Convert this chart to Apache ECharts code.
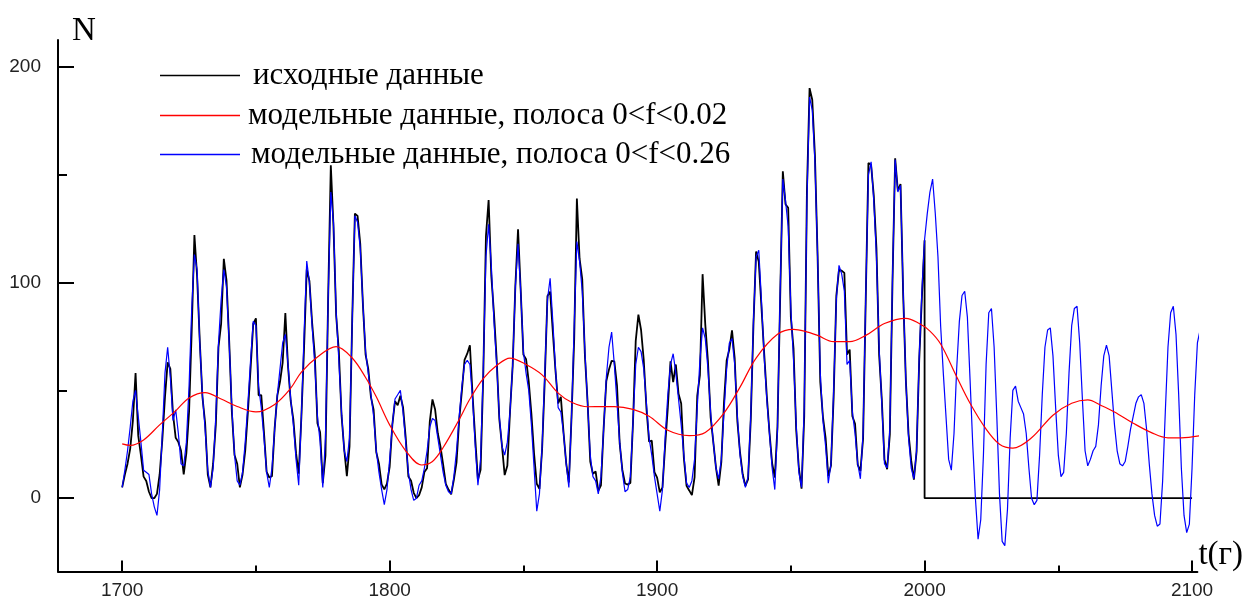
<!DOCTYPE html>
<html><head><meta charset="utf-8">
<script src="https://cdn.jsdelivr.net/npm/echarts@6/dist/echarts.min.js"></script>
<style>html,body{margin:0;padding:0;background:#fff}#c{width:1250px;height:600px}</style>
</head><body><div id="c"></div>
<script>
// ---------------- data ----------------
const legendNames = [
  'исходные данные',
  'модельные данные, полоса 0<f<0.02',
  'модельные данные, полоса 0<f<0.26'
];
const xName = 't(г)';
const yName = 'N';
const xMajorTicks = [1700, 1800, 1900, 2000, 2100];
const xMinorTicks = [1750, 1850, 1950, 2050];
const yMajorTicks = [0, 100, 200];
const yMinorTicks = [50, 150];

// original data (yearly), 1700..2000
const blackStartYear = 1700;
const blackValues = [
  5, 11, 16, 23, 36, 58, 29, 20, 10, 8,
  3, 0, 0, 2, 11, 27, 47, 63, 60, 39,
  28, 26, 22, 11, 21, 40, 78, 122, 103, 73,
  47, 35, 11, 5, 16, 34, 70, 81, 111, 101,
  73, 40, 20, 16, 5, 11, 22, 40, 60, 80.9,
  83.4, 47.7, 47.8, 30.7, 12.2, 9.6, 10.2, 32.4, 47.6, 54.0,
  62.9, 85.9, 61.2, 45.1, 36.4, 20.9, 11.4, 37.8, 69.8, 106.1,
  100.8, 81.6, 66.5, 34.8, 30.6, 7.0, 19.8, 92.5, 154.4, 125.9,
  84.8, 68.1, 38.5, 22.8, 10.2, 24.1, 82.9, 132.0, 130.9, 118.1,
  89.9, 66.6, 60.0, 46.9, 41.0, 21.3, 16.0, 6.4, 4.1, 6.8,
  14.5, 34.0, 45.0, 43.1, 47.5, 42.2, 28.1, 10.1, 8.1, 2.5,
  0.0, 1.4, 5.0, 12.2, 13.9, 35.4, 45.8, 41.1, 30.1, 23.9,
  15.6, 6.6, 4.0, 1.8, 8.5, 16.6, 36.3, 49.6, 64.2, 67.0,
  70.9, 47.8, 27.5, 8.5, 13.2, 56.9, 121.5, 138.3, 103.2, 85.7,
  64.6, 36.7, 24.2, 10.7, 15.0, 40.1, 61.5, 98.5, 124.7, 96.3,
  66.6, 64.5, 54.1, 39.0, 20.6, 6.7, 4.3, 22.7, 54.8, 93.8,
  95.8, 77.2, 59.1, 44.0, 47.0, 30.5, 16.3, 7.3, 37.6, 74.0,
  139.0, 111.2, 101.6, 66.2, 44.7, 17.0, 11.3, 12.4, 3.4, 6.0,
  32.3, 54.3, 59.7, 63.7, 63.5, 52.2, 25.4, 13.1, 6.8, 6.3,
  7.1, 35.6, 73.0, 85.1, 78.0, 64.0, 41.8, 26.2, 26.7, 12.1,
  9.5, 2.7, 5.0, 24.4, 42.0, 63.5, 53.8, 62.0, 48.5, 43.9,
  18.6, 5.7, 3.6, 1.4, 9.6, 47.4, 57.1, 103.9, 80.6, 63.6,
  37.6, 26.1, 14.2, 5.8, 16.7, 44.3, 63.9, 69.0, 77.8, 64.9,
  35.7, 21.2, 11.1, 5.7, 8.7, 36.1, 79.7, 114.4, 109.6, 88.8,
  67.8, 47.5, 30.6, 16.3, 9.6, 33.2, 92.6, 151.6, 136.3, 134.7,
  83.9, 69.4, 31.5, 13.9, 4.4, 38.0, 141.7, 190.2, 184.8, 159.0,
  112.3, 53.9, 37.6, 27.9, 10.2, 15.1, 47.0, 93.8, 105.9, 105.5,
  104.5, 66.6, 68.9, 38.0, 34.5, 15.5, 12.6, 27.5, 92.5, 155.4,
  154.6, 140.4, 115.9, 66.6, 45.9, 17.9, 13.4, 29.4, 100.2, 157.6,
  142.6, 145.7, 94.3, 54.6, 29.9, 17.5, 8.6, 21.5, 64.3, 93.3,
  119.6
];
const blackTailYears = [2000, 2100];
const blackTailValues = [0, 0];

// model, band 0<f<0.26 (yearly), 1700..2103
const blueStartYear = 1700;
const blueValues = [
  5, 13, 22, 33, 45, 50, 38, 26, 13, 12,
  11, 2, -4, -8, 4, 30, 58, 70, 56, 36,
  41, 30, 16, 15, 26, 52, 88, 113, 106, 72,
  48, 32, 13, 5, 14, 38, 72, 92, 106, 98,
  72, 42, 20, 8, 6, 12, 26, 44, 64, 82,
  80, 52, 42, 28, 12, 5, 14, 32, 48, 60,
  72, 76, 62, 46, 34, 18, 6, 38, 76, 110,
  100, 80, 62, 38, 26, 5, 28, 92, 142, 128,
  86, 64, 40, 22, 17, 28, 82, 131, 128, 116,
  90, 68, 58, 48, 38, 22, 12, 4, -3, 4,
  18, 34, 46, 48, 50, 40, 26, 12, 4, -1,
  0, 6, 8, 14, 22, 33, 37, 36, 28, 20,
  12, 6, 3, 2, 10, 22, 38, 52, 62, 64,
  62, 46, 24, 6, 18, 60, 112, 127, 108, 82,
  62, 38, 24, 20, 26, 40, 62, 98, 118, 96,
  68, 58, 50, 34, 14, -6, 2, 24, 58, 92,
  102, 82, 60, 42, 40, 30, 16, 5, 38, 80,
  119, 110, 96, 68, 44, 20, 10, 8, 2, 10,
  32, 56, 70, 77, 62, 44, 26, 12, 3, 4,
  10, 36, 62, 70, 68, 60, 44, 28, 20, 10,
  2, -6, 4, 28, 48, 62, 67, 58, 46, 34,
  20, 7, 5, 8, 18, 42, 64, 79, 74, 60,
  40, 26, 14, 9, 18, 40, 60, 72, 74, 62,
  38, 20, 10, 5, 10, 38, 82, 112, 115, 92,
  66, 46, 30, 14, 4, 32, 96, 148, 138, 126,
  88, 64, 34, 12, 5, 42, 138, 186, 180, 156,
  112, 58, 36, 24, 7, 16, 50, 92, 108, 104,
  96, 62, 64, 40, 30, 16, 9, 30, 94, 150,
  156, 138, 112, 70, 44, 16, 14, 32, 102, 157,
  142, 145, 96, 54, 28, 14, 9, 22, 66, 96,
  120, 132, 142, 148, 132, 112, 80, 58, 38, 18,
  13, 30, 60, 82, 94, 96, 84, 55, 25, 0,
  -19, -10, 20, 62, 86, 88, 70, 38, 2, -20,
  -22, -5, 28, 50, 52, 45, 42, 39, 30, 14,
  0, -3, -1, 20, 48, 70, 78, 79, 66, 42,
  20, 10, 12, 30, 58, 80, 88, 89, 72, 46,
  22, 15, 18, 22, 24, 34, 52, 66, 71, 66,
  50, 34, 22, 16, 15, 17, 24, 32, 38, 44,
  47, 48, 44, 32, 16, 2, -8, -13, -12, 8,
  40, 70, 86, 89, 76, 48, 14, -8, -16, -12,
  14, 48, 72, 78
];

// model, band 0<f<0.02 (smooth trend)
const redYears = [1700, 1703, 1708, 1714, 1720, 1725, 1731, 1737, 1743, 1750,
  1757, 1763, 1767, 1773, 1780, 1786, 1791, 1795, 1800, 1806,
  1812, 1816, 1820, 1826, 1830, 1835, 1840, 1845, 1851, 1857,
  1863, 1868, 1874, 1880, 1884, 1891, 1897, 1904, 1912, 1918,
  1925, 1931, 1937, 1945, 1951, 1955, 1960, 1966, 1972, 1978,
  1985, 1993, 1998, 2002, 2006, 2012, 2017, 2023, 2028, 2033,
  2040, 2048, 2055, 2061, 2066, 2071, 2078, 2085, 2091, 2096, 2103];
const redValues = [25.2, 24.5, 27, 34, 40.5, 46.5, 49, 46, 42.5, 40,
  43.5, 51, 58.5, 65.5, 70.3, 65, 56, 47, 34, 22,
  15.4, 17, 23.5, 36.5, 46, 55.5, 61.5, 65, 62, 57.2,
  48.7, 44.5, 42.4, 42.5, 42.5, 41.2, 38, 31.5, 29, 30.5,
  39.5, 51.5, 65, 76, 78.3, 77.5, 75.5, 72.6, 72.6, 75.5,
  81, 83.4, 81, 77.5, 71.5, 56.3, 44, 32, 25, 23.2,
  28, 38.5, 44, 45.6, 43, 40, 34.8, 30.3, 28, 28, 29];

// ---------------- chart ----------------
const blackData = blackValues.map((v, i) => [blackStartYear + i, v])
  .concat(blackTailYears.map((y, i) => [y, blackTailValues[i]]));
const blueData = blueValues.map((v, i) => [blueStartYear + i, v]);
const redData = redYears.map((y, i) => [y, redValues[i]]);

const tickFont = { fontFamily: 'Liberation Sans, Arial, sans-serif', fontSize: 19, color: '#222' };
const serif = 'Liberation Serif, "Times New Roman", serif';
const axisLine = { show: true, onZero: false, lineStyle: { color: '#000', width: 2 } };
const plain = v => String(v);

const chart = echarts.init(document.getElementById('c'), null, { renderer: 'canvas' });
const legendTops = [60, 100, 139];
const legendPad = [8, 3, 6];

chart.setOption({
  animation: false,
  backgroundColor: '#fff',
  grid: { left: 58, right: 52.6, top: 40, bottom: 28.5, containLabel: false, outerBoundsMode: 'none' },
  legend: legendNames.map((n, i) => ({
    data: [n], left: 160, top: legendTops[i], padding: 0,
    icon: 'rect', itemWidth: 80, itemHeight: 1.5, selectedMode: false,
    textStyle: { fontFamily: serif, fontSize: 31, lineHeight: 30, color: '#000', padding: [0, 0, 0, legendPad[i]] }
  })),
  xAxis: [{
    type: 'value', min: 1676, max: 2102,
    name: xName, nameLocation: 'end', nameGap: 1,
    nameTextStyle: { fontFamily: serif, fontSize: 33, lineHeight: 33, color: '#000', align: 'left', verticalAlign: 'bottom' },
    axisLine: axisLine,
    axisTick: { show: true, inside: true, length: 11, lineStyle: { color: '#000', width: 2 }, customValues: xMajorTicks },
    axisLabel: Object.assign({ margin: 10, customValues: xMajorTicks, formatter: plain }, tickFont),
    splitLine: { show: false }
  }, {
    type: 'value', min: 1676, max: 2102, position: 'bottom',
    axisLine: { show: false, onZero: false },
    axisTick: { show: true, inside: true, length: 6, lineStyle: { color: '#000', width: 2 }, customValues: xMinorTicks },
    axisLabel: { show: false }, splitLine: { show: false }
  }],
  yAxis: [{
    type: 'value', min: -34, max: 212.5,
    name: yName, nameLocation: 'end', nameGap: -8,
    nameTextStyle: { fontFamily: serif, fontSize: 33, lineHeight: 33, color: '#000', align: 'left', verticalAlign: 'bottom', padding: [0, 0, 0, 14] },
    axisLine: axisLine,
    axisTick: { show: true, inside: true, length: 16, lineStyle: { color: '#000', width: 2 }, customValues: yMajorTicks },
    axisLabel: Object.assign({ margin: 17, customValues: yMajorTicks, formatter: plain }, tickFont),
    splitLine: { show: false }
  }, {
    type: 'value', min: -34, max: 212.5, position: 'left', offset: 0,
    axisLine: { show: false, onZero: false },
    axisTick: { show: true, inside: true, length: 9, lineStyle: { color: '#000', width: 2 }, customValues: yMinorTicks },
    axisLabel: { show: false }, splitLine: { show: false }
  }],
  series: [{
    name: legendNames[0], type: 'line', data: blackData, symbol: 'none', clip: false,
    color: '#000', lineStyle: { color: '#000', width: 1.8 }, z: 2
  }, {
    name: legendNames[2], type: 'line', data: blueData, symbol: 'none', clip: false,
    color: '#0000ff', lineStyle: { color: '#0000ff', width: 1.2 }, z: 3
  }, {
    name: legendNames[1], type: 'line', data: redData, symbol: 'none', clip: false, smooth: 0.35,
    color: '#ff0000', lineStyle: { color: '#ff0000', width: 1.2 }, z: 4
  }]
});
</script>
</body></html>
